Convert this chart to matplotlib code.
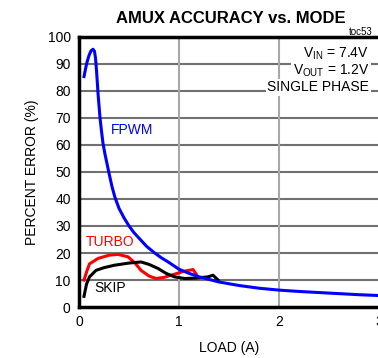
import matplotlib
matplotlib.use("Agg")
import matplotlib.pyplot as plt

plt.rcParams['font.family'] = ['Liberation Sans', 'DejaVu Sans']

# FPWM
fpwm_x = [0.05, 0.065, 0.08, 0.10, 0.12, 0.14, 0.155, 0.165, 0.175, 0.185, 0.19, 0.20, 0.21,
          0.225, 0.24, 0.26, 0.28, 0.30, 0.33, 0.36, 0.40, 0.45, 0.50, 0.55, 0.60, 0.675,
          0.75, 0.825, 0.90, 1.00, 1.10, 1.20, 1.40, 1.60, 1.80, 2.00, 2.20, 2.50, 2.80, 3.00]
fpwm_y = [85.2, 88.0, 90.5, 93.0, 94.7, 95.3, 94.5, 92.0, 87.5, 82.0, 79.0, 74.5, 70.0,
          65.0, 60.5, 56.5, 53.0, 49.5, 44.5, 40.5, 36.5, 33.0, 30.0, 27.5, 25.5, 22.5,
          20.2, 18.2, 16.5, 14.0, 12.5, 11.2, 9.3, 8.0, 7.0, 6.3, 5.8, 5.2, 4.6, 4.3]

# TURBO
turbo_x = [0.05, 0.08, 0.105, 0.19, 0.30, 0.39, 0.49, 0.56, 0.62, 0.70, 0.77, 0.85, 0.92,
           1.00, 1.055, 1.14, 1.19]
turbo_y = [10.0, 13.5, 16.0, 18.0, 19.2, 19.5, 18.6, 16.3, 13.6, 11.5, 10.6, 11.0, 11.8,
           12.7, 13.3, 13.9, 11.2]

# SKIP
skip_x = [0.05, 0.075, 0.105, 0.17, 0.25, 0.355, 0.50, 0.62, 0.70, 0.79, 0.87, 0.955,
          1.055, 1.15, 1.29, 1.34, 1.39]
skip_y = [4.0, 8.5, 11.2, 13.6, 14.6, 15.5, 16.3, 16.7, 15.8, 14.3, 12.5, 11.2,
          10.6, 10.7, 11.2, 11.8, 10.0]

xticks = [0, 1, 2, 3]
yticks = [0, 10, 20, 30, 40, 50, 60, 70, 80, 90, 100]

fig = plt.figure(figsize=(3.78, 3.58), dpi=100)
ax = fig.add_axes([0.209, 0.142, 0.794, 0.756])

ax.plot(fpwm_x, fpwm_y, color='#0000ff', lw=2.2, zorder=3, solid_joinstyle='round')
ax.plot(turbo_x, turbo_y, color='#ff0000', lw=2.2, zorder=2, solid_joinstyle='round')
ax.plot(skip_x, skip_y, color='black', lw=2.2, zorder=2, solid_joinstyle='round')

ax.set_xlim(0, 3)
ax.set_ylim(0, 100)
ax.set_xticks(xticks)
ax.set_yticks(yticks)
ax.tick_params(length=0, labelsize=10, pad=6)

for v in yticks[1:-1]:
    ax.axhline(v, color='#707070', lw=1.5, zorder=1)
for v in xticks[1:]:
    ax.axvline(v, color='#a8a8a8', lw=1.5, zorder=1)

for s in ['left', 'bottom', 'top']:
    ax.spines[s].set_linewidth(2.5)
ax.spines['right'].set_visible(False)

ax.text(0.32, 64, 'FPWM', color='#0000ff', fontsize=10)
ax.text(0.07, 22.5, 'TURBO', color='#ff0000', fontsize=10)
ax.text(0.15, 5.5, 'SKIP', color='black', fontsize=10,
        bbox=dict(facecolor='white', edgecolor='none', pad=0.5))

ax.text(2.9, 93.5, '$\\mathregular{V_{IN}}$ = 7.4V', ha='right', va='center', fontsize=10,
        bbox=dict(facecolor='white', edgecolor='none', pad=1))
ax.text(2.9, 87.3, '$\\mathregular{V_{OUT}}$ = 1.2V', ha='right', va='center', fontsize=10,
        bbox=dict(facecolor='white', edgecolor='none', pad=1))
ax.text(2.9, 81.3, 'SINGLE PHASE', ha='right', va='center', fontsize=10,
        bbox=dict(facecolor='white', edgecolor='none', pad=1))

fig.text(0.61, 0.948, 'AMUX ACCURACY vs. MODE', ha='center', va='center',
         fontsize=12, fontweight='bold')
fig.text(0.955, 0.91, 'toc53', ha='center', va='center', fontsize=7)

ax.set_xlabel('LOAD (A)', fontsize=10, labelpad=8)
ax.set_ylabel('PERCENT ERROR (%)', fontsize=10, labelpad=6)

fig.savefig('out.png', dpi=100)
